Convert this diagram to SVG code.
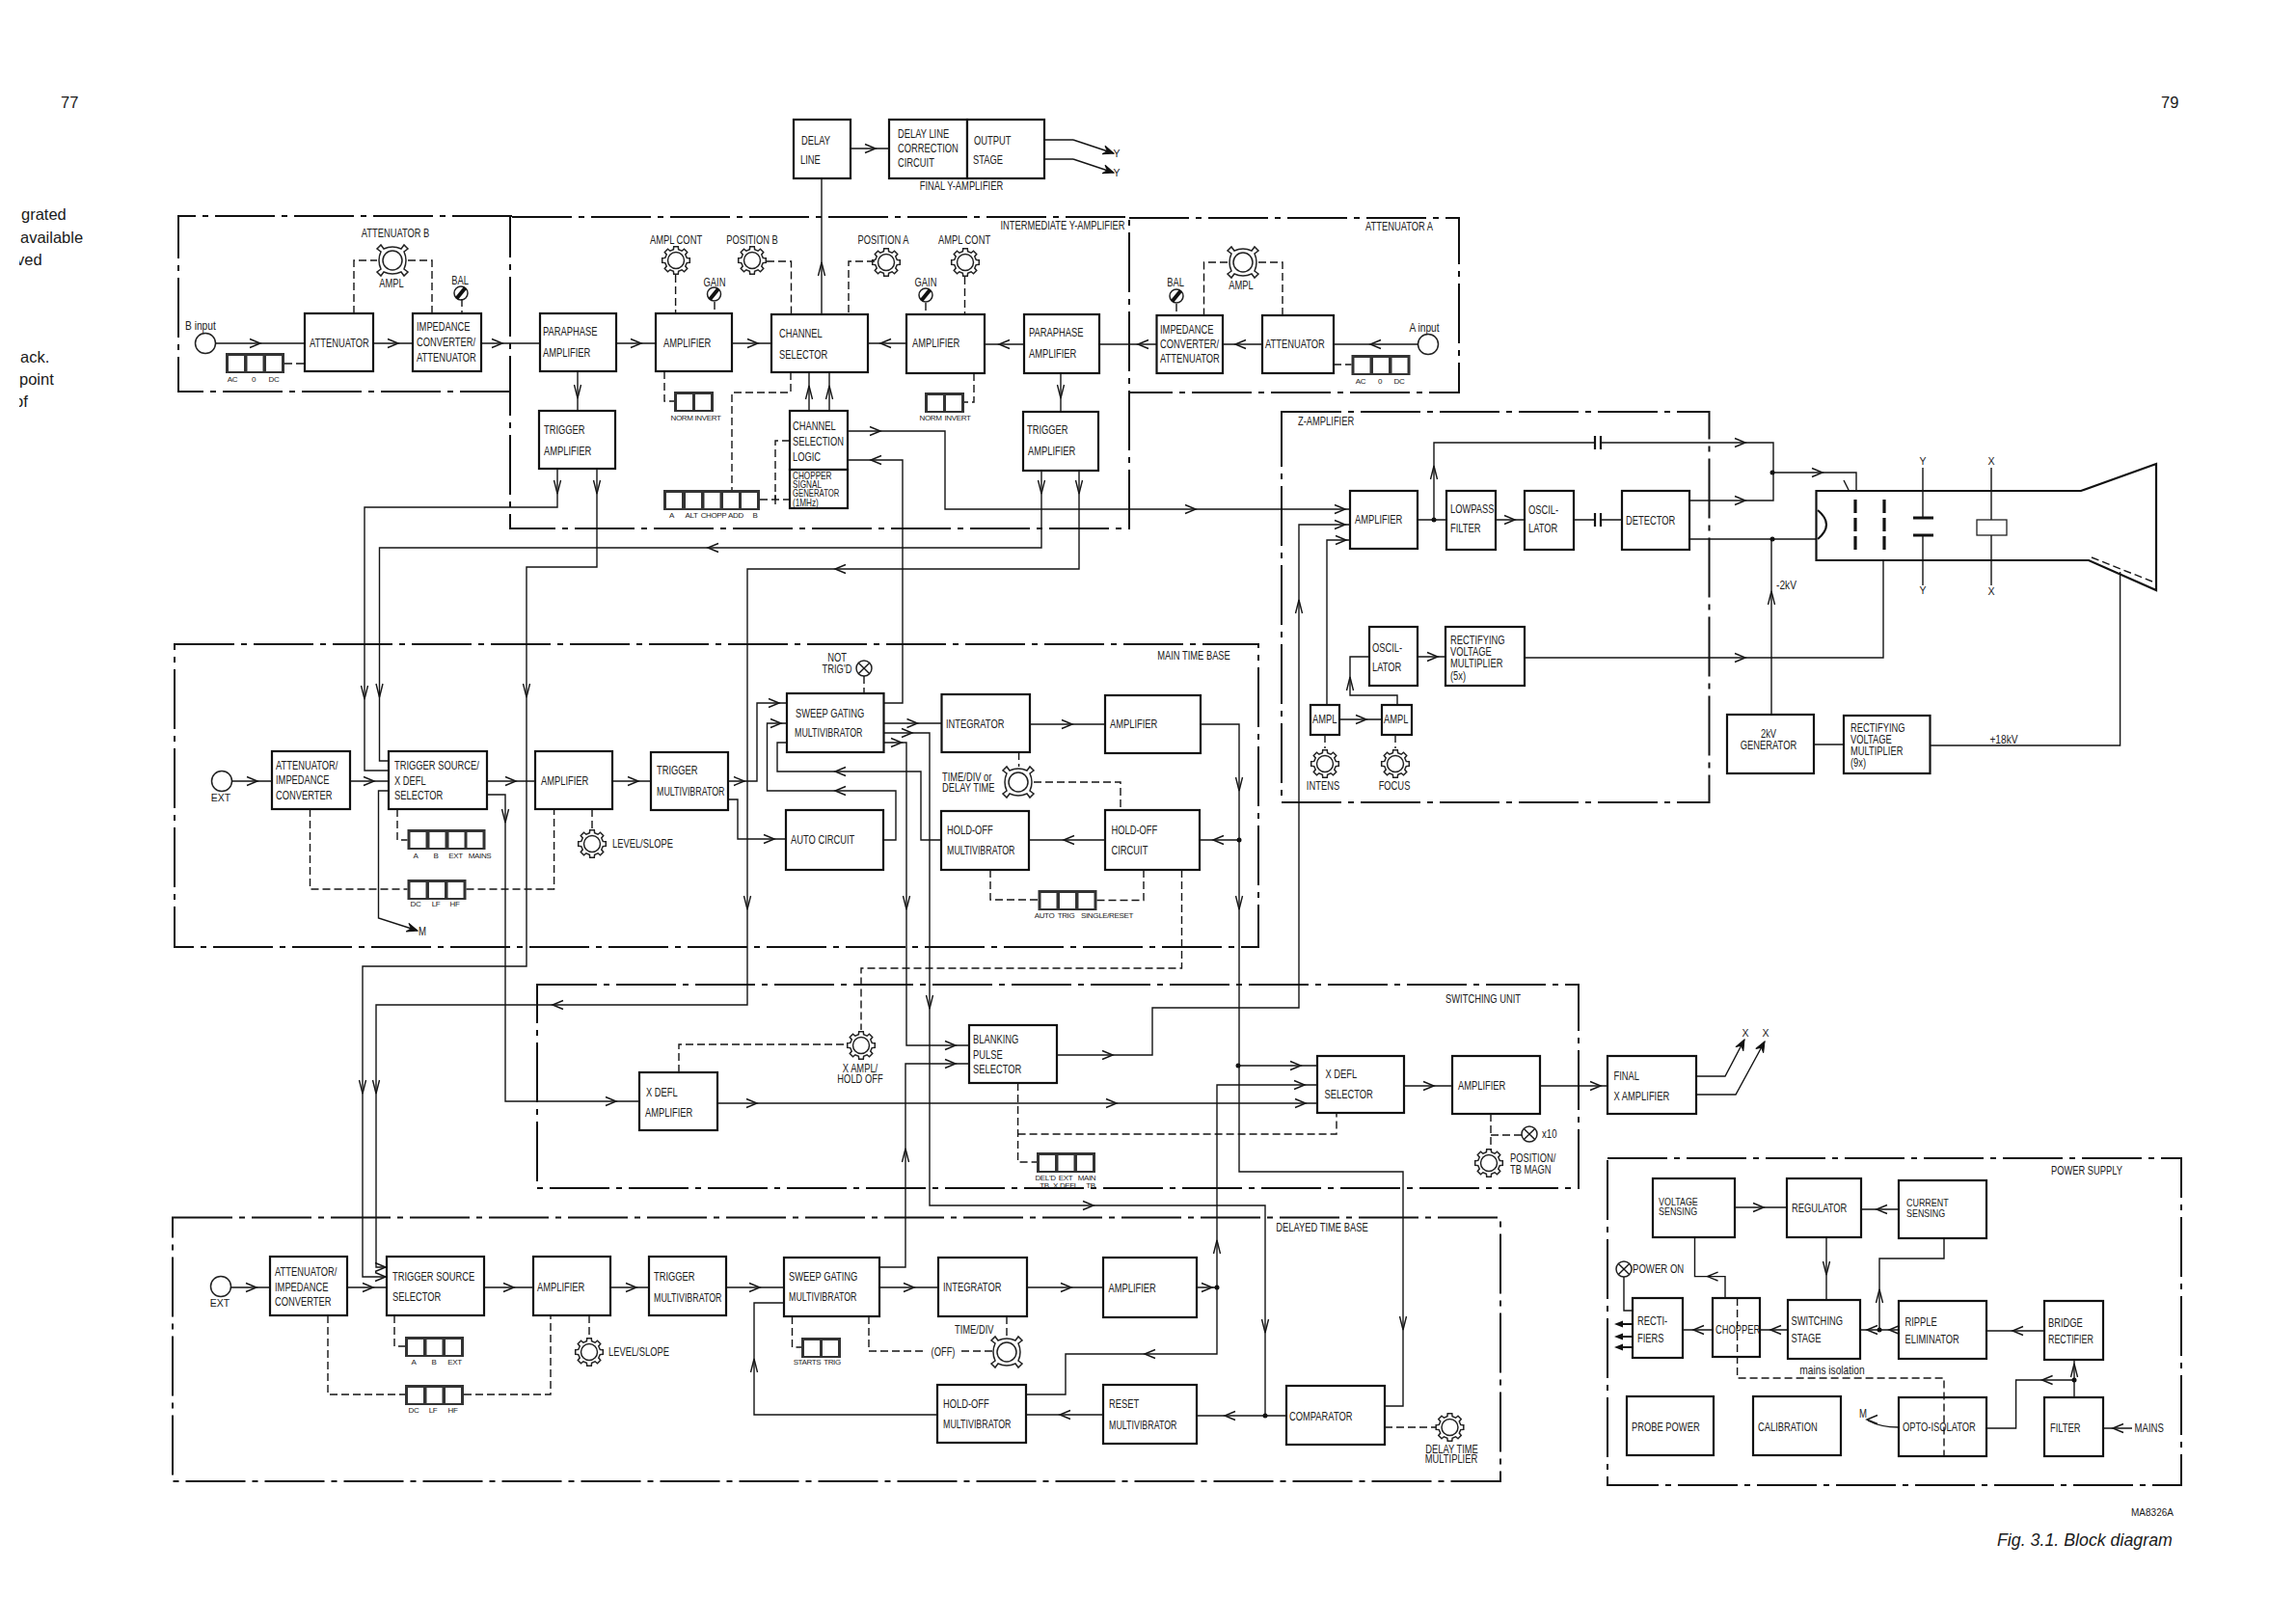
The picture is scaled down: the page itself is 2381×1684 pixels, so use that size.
<svg xmlns="http://www.w3.org/2000/svg" width="2381" height="1684" viewBox="0 0 2381 1684">
<style>
text{font-family:"Liberation Sans",Arial,sans-serif;font-size:12px;fill:#1a1a1a}
text.s{font-size:8px;letter-spacing:-.35px}
text.m{text-anchor:middle}
text.p{font-size:16.5px}
text.n{font-size:10.5px}
text.fig{font-size:17.8px;font-style:italic}
.b{fill:#fff;stroke:#111;stroke-width:2.2}
.c{fill:none;stroke:#151515;stroke-width:1.4}
.d{fill:none;stroke:#151515;stroke-width:1.4;stroke-dasharray:8 4}
.f{fill:none;stroke:#111;stroke-width:2;stroke-dasharray:62 7 6 7}
.k{fill:#fff;stroke:#222;stroke-width:1.5}
.t{fill:none;stroke:#111;stroke-width:2.2}
.e{fill:none;stroke:#111;stroke-width:3.2;stroke-dasharray:14 5}
.dot{fill:#111}
</style>
<defs>
<path id="ar" class="c" d="M-11,-4.5L0,0L-11,4.5"/>
<path id="al" class="c" d="M11,-4.5L0,0L11,4.5"/>
<path id="au" class="c" d="M-3.5,14L0,0L3.5,14"/>
<path id="ad" class="c" d="M-3.5,-14L0,0L3.5,-14"/>
<path id="fa" d="M0,0L9,-3.5L9,-1H19V1H9L9,3.5Z" fill="#111"/>
<marker id="me" viewBox="-12 -6 13 12" refX="0" refY="0" markerWidth="13" markerHeight="12" markerUnits="userSpaceOnUse" orient="auto"><path d="M-11,-4.5L0,0L-11,4.5L-7,0Z" fill="#111" stroke="#111"/></marker>
<g id="gear"><path class="k" d="M11.2,-2.6L14.3,-2.3L14.3,2.3L11.2,2.6L9.76,6.08L11.74,8.49L8.49,11.74L6.08,9.76L2.6,11.2L2.3,14.3L-2.3,14.3L-2.6,11.2L-6.08,9.76L-8.49,11.74L-11.74,8.49L-9.76,6.08L-11.2,2.6L-14.3,2.3L-14.3,-2.3L-11.2,-2.6L-9.76,-6.08L-11.74,-8.49L-8.49,-11.74L-6.08,-9.76L-2.6,-11.2L-2.3,-14.3L2.3,-14.3L2.6,-11.2L6.08,-9.76L8.49,-11.74L11.74,-8.49L9.76,-6.08Z"/><circle class="k" r="8.5"/></g>
<g id="lug"><path class="k" d="M-9,-12Q0,-16 9,-12L12,-16L16,-12L12,-9Q16,0 12,9L16,12L12,16L9,12Q0,16 -9,12L-12,16L-16,12L-12,9Q-16,0 -12,-9L-16,-12L-12,-16Z"/><circle class="k" r="10"/></g>
<g id="screw"><circle class="k" r="7"/><path d="M-4.5,5.5L4.5,-5.5" stroke="#111" stroke-width="4"/></g>
<g id="lamp"><circle class="k" r="8"/><path class="c" d="M-5.6,-5.6L5.6,5.6M-5.6,5.6L5.6,-5.6"/></g>
<g id="sw2"><rect width="41" height="21" fill="#333"/><rect x="3" y="3" width="16" height="16" fill="#fff"/><rect x="22" y="3" width="16" height="16" fill="#fff"/></g>
<g id="sw3"><rect width="61" height="21" fill="#333"/><rect x="3" y="3" width="16" height="16" fill="#fff"/><rect x="22.500" y="3" width="16" height="16" fill="#fff"/><rect x="42" y="3" width="16" height="16" fill="#fff"/></g>
<g id="sw4"><rect width="81" height="21" fill="#333"/><rect x="3" y="3" width="16" height="16" fill="#fff"/><rect x="23" y="3" width="16" height="16" fill="#fff"/><rect x="43" y="3" width="16" height="16" fill="#fff"/><rect x="62" y="3" width="16" height="16" fill="#fff"/></g>
<g id="sw5"><rect width="100" height="21" fill="#333"/><rect x="3" y="3" width="16" height="16" fill="#fff"/><rect x="23" y="3" width="16" height="16" fill="#fff"/><rect x="42.500" y="3" width="16" height="16" fill="#fff"/><rect x="62" y="3" width="16" height="16" fill="#fff"/><rect x="81" y="3" width="16" height="16" fill="#fff"/></g>
<clipPath id="margin"><rect x="20" y="200" width="120" height="240"/></clipPath>
</defs>
<rect width="2381" height="1684" fill="#fff"/>

<g id="page-text">
<text class="p" x="63" y="112">77</text>
<text class="p" x="2241" y="112">79</text>
<g clip-path="url(#margin)">
<text class="p" x="22" y="228">grated</text>
<text class="p" x="21" y="252">available</text>
<text class="p" x="17" y="275">ved</text>
<text class="p" x="21" y="376">ack.</text>
<text class="p" x="20" y="399">point</text>
<text class="p" x="15" y="422">of</text>
</g>
<text class="m" x="2232" y="1572" style="font-size:10px">MA8326A</text>
<text class="fig" x="2071" y="1603">Fig. 3.1. Block diagram</text>
</g>

<g id="frames">
<path class="f" d="M531,224H185V406H530"/>
<path class="f" d="M531,225H1171V548H529V225"/>
<path class="f" d="M1171,226H1513V407H1170"/>
<path class="f" d="M181,668H1305V982H181Z"/>
<path class="f" d="M557,1021H1637V1232H557Z"/>
<path class="f" d="M179,1262.500H1556V1536H179Z"/>
<path class="f" d="M1329,427H1772.500V832H1329Z"/>
<path class="f" d="M1667,1201H2262V1540H1667Z"/>
<text class="m" transform="translate(410 246) scale(.78 1)">ATTENUATOR  B</text>
<text class="m" transform="translate(1102 238) scale(.78 1)">INTERMEDIATE  Y-AMPLIFIER</text>
<text class="m" transform="translate(1451 239) scale(.78 1)">ATTENUATOR  A</text>
<text class="m" transform="translate(1238 684) scale(.78 1)">MAIN  TIME  BASE</text>
<text class="m" transform="translate(1538 1040) scale(.78 1)">SWITCHING  UNIT</text>
<text class="m" transform="translate(1371 1277) scale(.78 1)">DELAYED  TIME  BASE</text>
<text transform="translate(1346 441) scale(.78 1)">Z-AMPLIFIER</text>
<text class="m" transform="translate(2164 1218) scale(.78 1)">POWER  SUPPLY</text>
</g>

<g id="nodes">
<g id="delay-line"><rect class="b" x="823" y="124" width="59" height="61"/><text transform="translate(831 150) scale(.78 1)">DELAY</text><text transform="translate(830 170) scale(.78 1)">LINE</text></g>
<g id="delay-correction"><rect class="b" x="922" y="124" width="81" height="61"/><text transform="translate(931 143) scale(.78 1)">DELAY  LINE</text><text transform="translate(931 158) scale(.78 1)">CORRECTION</text><text transform="translate(931 173) scale(.78 1)">CIRCUIT</text></g>
<g id="output-stage"><rect class="b" x="1003" y="124" width="80" height="61"/><text transform="translate(1010 150) scale(.78 1)">OUTPUT</text><text transform="translate(1009 170) scale(.78 1)">STAGE</text></g>
<text class="m" transform="translate(997 197) scale(.78 1)">FINAL  Y-AMPLIFIER</text>

<g id="att-b"><rect class="b" x="316" y="325" width="71" height="60"/><text transform="translate(321 360) scale(.78 1)">ATTENUATOR</text></g>
<g id="imp-b"><rect class="b" x="428" y="325" width="71" height="60"/><text transform="translate(432 343) scale(.78 1)">IMPEDANCE</text><text transform="translate(432 359) scale(.78 1)">CONVERTER/</text><text transform="translate(432 375) scale(.78 1)">ATTENUATOR</text></g>
<g id="para-b"><rect class="b" x="560" y="325" width="79" height="60"/><text transform="translate(563 348) scale(.78 1)">PARAPHASE</text><text transform="translate(563 370) scale(.78 1)">AMPLIFIER</text></g>
<g id="amp-b"><rect class="b" x="680" y="325" width="79" height="60"/><text transform="translate(688 360) scale(.78 1)">AMPLIFIER</text></g>
<g id="channel-selector"><rect class="b" x="800" y="326" width="100" height="60"/><text transform="translate(808 350) scale(.78 1)">CHANNEL</text><text transform="translate(808 372) scale(.78 1)">SELECTOR</text></g>
<g id="amp-a"><rect class="b" x="940" y="326" width="81" height="61"/><text transform="translate(946 360) scale(.78 1)">AMPLIFIER</text></g>
<g id="para-a"><rect class="b" x="1062" y="326" width="78" height="61"/><text transform="translate(1067 349) scale(.78 1)">PARAPHASE</text><text transform="translate(1067 371) scale(.78 1)">AMPLIFIER</text></g>
<g id="imp-a"><rect class="b" x="1199.500" y="327" width="68.500" height="60"/><text transform="translate(1203 346) scale(.78 1)">IMPEDANCE</text><text transform="translate(1203 361) scale(.78 1)">CONVERTER/</text><text transform="translate(1203 376) scale(.78 1)">ATTENUATOR</text></g>
<g id="att-a"><rect class="b" x="1309" y="327" width="74" height="60"/><text transform="translate(1312 361) scale(.78 1)">ATTENUATOR</text></g>
<g id="trig-amp-b"><rect class="b" x="559" y="426" width="79" height="60"/><text transform="translate(564 450) scale(.78 1)">TRIGGER</text><text transform="translate(564 472) scale(.78 1)">AMPLIFIER</text></g>
<g id="trig-amp-a"><rect class="b" x="1061" y="427" width="78" height="61"/><text transform="translate(1065 450) scale(.78 1)">TRIGGER</text><text transform="translate(1066 472) scale(.78 1)">AMPLIFIER</text></g>
<g id="channel-logic"><rect class="b" x="819" y="426" width="60" height="61"/><text transform="translate(822 446) scale(.78 1)">CHANNEL</text><text transform="translate(822 462) scale(.78 1)">SELECTION</text><text transform="translate(822 478) scale(.78 1)">LOGIC</text></g>
<g id="chopper-gen"><rect class="b" x="819" y="487" width="60" height="40"/><text class="n" transform="translate(822 497) scale(.78 1)">CHOPPER</text><text class="n" transform="translate(822 506) scale(.78 1)">SIGNAL</text><text class="n" transform="translate(822 515) scale(.74 1)">GENERATOR</text><text class="n" transform="translate(822 525) scale(.78 1)">(1MHz)</text></g>

<g id="attenuator-b-controls"><use href="#lug" x="407" y="270"/><text class="m" transform="translate(406 298) scale(.78 1)">AMPL</text><use href="#screw" x="478" y="304"/><text class="m" transform="translate(477 295) scale(.78 1)">BAL</text><circle class="k" cx="213" cy="356" r="10.500"/><text transform="translate(192 342) scale(.85 1)">B input</text><use href="#sw3" x="234" y="366"/><text class="s m" x="241" y="396">AC</text><text class="s m" x="263" y="396">0</text><text class="s m" x="284" y="396">DC</text></g>
<g id="attenuator-a-controls"><use href="#lug" x="1289" y="272"/><text class="m" transform="translate(1287 300) scale(.78 1)">AMPL</text><use href="#screw" x="1220" y="307"/><text class="m" transform="translate(1219 297) scale(.78 1)">BAL</text><circle class="k" cx="1481" cy="357" r="10.500"/><text class="m" transform="translate(1477 344) scale(.85 1)">A input</text><use href="#sw3" x="1401.500" y="368"/><text class="s m" x="1411" y="398">AC</text><text class="s m" x="1431" y="398">0</text><text class="s m" x="1451" y="398">DC</text></g>
<g id="y-controls"><use href="#gear" x="701" y="270"/><text class="m" transform="translate(701 253) scale(.78 1)">AMPL  CONT</text><use href="#gear" x="780" y="270"/><text class="m" transform="translate(780 253) scale(.78 1)">POSITION  B</text><use href="#gear" x="919" y="272"/><text class="m" transform="translate(916 253) scale(.78 1)">POSITION  A</text><use href="#gear" x="1001" y="272"/><text class="m" transform="translate(1000 253) scale(.78 1)">AMPL  CONT</text><use href="#screw" x="740.500" y="305"/><text class="m" transform="translate(741 297) scale(.78 1)">GAIN</text><use href="#screw" x="960" y="306"/><text class="m" transform="translate(960 297) scale(.78 1)">GAIN</text><use href="#sw2" x="699" y="406"/><text class="s m" x="707" y="436">NORM</text><text class="s m" x="734" y="436">INVERT</text><use href="#sw2" x="959" y="407"/><text class="s m" x="965" y="436">NORM</text><text class="s m" x="993" y="436">INVERT</text><use href="#sw5" x="688" y="508"/><text class="s m" x="696.500" y="537">A</text><text class="s m" x="717" y="537">ALT</text><text class="s m" x="740" y="537">CHOPP</text><text class="s m" x="763" y="537">ADD</text><text class="s m" x="783" y="537">B</text></g>

<g id="ext-main"><circle class="k" cx="230" cy="810" r="10.500"/><text class="m n" x="229" y="831">EXT</text></g>
<g id="att-imp-main"><rect class="b" x="282" y="779" width="81" height="60"/><text transform="translate(286 798) scale(.78 1)">ATTENUATOR/</text><text transform="translate(286 813) scale(.78 1)">IMPEDANCE</text><text transform="translate(286 829) scale(.78 1)">CONVERTER</text></g>
<g id="trig-source-main"><rect class="b" x="403" y="779" width="102" height="60"/><text transform="translate(409 798) scale(.78 1)">TRIGGER  SOURCE/</text><text transform="translate(409 814) scale(.78 1)">X  DEFL</text><text transform="translate(409 829) scale(.78 1)">SELECTOR</text></g>
<g id="amp-main"><rect class="b" x="555" y="779" width="80" height="60"/><text transform="translate(561 814) scale(.78 1)">AMPLIFIER</text></g>
<g id="trig-multi-main"><rect class="b" x="675" y="780" width="80" height="60"/><text transform="translate(681 803) scale(.78 1)">TRIGGER</text><text transform="translate(681 825) scale(.74 1)">MULTIVIBRATOR</text></g>
<g id="sweep-main"><rect class="b" x="816" y="719" width="100.500" height="61"/><text transform="translate(825 744) scale(.78 1)">SWEEP  GATING</text><text transform="translate(824 764) scale(.74 1)">MULTIVIBRATOR</text></g>
<g id="auto-circuit"><rect class="b" x="815" y="840" width="101" height="62"/><text transform="translate(820 875) scale(.78 1)">AUTO  CIRCUIT</text></g>
<g id="integrator-main"><rect class="b" x="976.500" y="720" width="91.500" height="60"/><text transform="translate(981 755) scale(.78 1)">INTEGRATOR</text></g>
<g id="amp-main-2"><rect class="b" x="1146" y="721" width="99" height="60"/><text transform="translate(1151 755) scale(.78 1)">AMPLIFIER</text></g>
<g id="holdoff-multi-main"><rect class="b" x="976" y="841" width="91" height="61"/><text transform="translate(982 865) scale(.78 1)">HOLD-OFF</text><text transform="translate(982 886) scale(.74 1)">MULTIVIBRATOR</text></g>
<g id="holdoff-circuit"><rect class="b" x="1146" y="840" width="98" height="62"/><text transform="translate(1152.500 865) scale(.78 1)">HOLD-OFF</text><text transform="translate(1152.500 886) scale(.78 1)">CIRCUIT</text></g>
<g id="main-controls"><use href="#lamp" x="896" y="693"/><text class="m" transform="translate(868 686) scale(.78 1)">NOT</text><text class="m" transform="translate(868 698) scale(.78 1)">TRIG'D</text><use href="#lug" x="1056" y="811"/><text transform="translate(977 810) scale(.78 1)">TIME/DIV  or</text><text transform="translate(977 821) scale(.78 1)">DELAY  TIME</text><use href="#gear" x="614" y="875"/><text transform="translate(635 879) scale(.78 1)">LEVEL/SLOPE</text><use href="#sw4" x="422.500" y="860"/><text class="s m" x="431" y="890">A</text><text class="s m" x="452" y="890">B</text><text class="s m" x="472.500" y="890">EXT</text><text class="s m" x="497.500" y="890">MAINS</text><use href="#sw3" x="422.500" y="912"/><text class="s m" x="431" y="940">DC</text><text class="s m" x="452" y="940">LF</text><text class="s m" x="471.500" y="940">HF</text><use href="#sw3" x="1076.500" y="923"/><text class="s m" x="1083" y="952">AUTO</text><text class="s m" x="1105.500" y="952">TRIG</text><text class="s m" x="1148" y="952">SINGLE/RESET</text><text transform="translate(434 970) scale(.8 1)">M</text></g>

<g id="x-defl-amp"><rect class="b" x="663" y="1112" width="81" height="60"/><text transform="translate(670 1137) scale(.78 1)">X  DEFL</text><text transform="translate(669 1158) scale(.78 1)">AMPLIFIER</text></g>
<g id="blanking"><rect class="b" x="1005" y="1063" width="91" height="60"/><text transform="translate(1009 1082) scale(.78 1)">BLANKING</text><text transform="translate(1009 1098) scale(.78 1)">PULSE</text><text transform="translate(1009 1113) scale(.78 1)">SELECTOR</text></g>
<g id="x-defl-selector"><rect class="b" x="1366" y="1095" width="90" height="59"/><text transform="translate(1374.500 1118) scale(.78 1)">X  DEFL</text><text transform="translate(1373.500 1139) scale(.78 1)">SELECTOR</text></g>
<g id="amp-x"><rect class="b" x="1506" y="1095" width="91" height="60"/><text transform="translate(1512 1130) scale(.78 1)">AMPLIFIER</text></g>
<g id="final-x"><rect class="b" x="1667" y="1095" width="92" height="60"/><text transform="translate(1673.500 1120) scale(.78 1)">FINAL</text><text transform="translate(1673.500 1141) scale(.78 1)">X  AMPLIFIER</text></g>
<g id="switching-controls"><use href="#gear" x="893" y="1084"/><text class="m" transform="translate(892 1112) scale(.78 1)">X  AMPL/</text><text class="m" transform="translate(892 1123) scale(.78 1)">HOLD  OFF</text><use href="#sw3" x="1075" y="1195"/><text class="s m" x="1084" y="1224">DEL'D</text><text class="s m" x="1105" y="1224">EXT</text><text class="s m" x="1127" y="1224">MAIN</text><text class="s m" x="1083" y="1232">TB</text><text class="s m" x="1105" y="1232">X DEFL</text><text class="s m" x="1131" y="1232">TB</text><use href="#lamp" x="1586" y="1176"/><text transform="translate(1599 1180) scale(.8 1)">x10</text><use href="#gear" x="1544" y="1206"/><text transform="translate(1566 1205) scale(.78 1)">POSITION/</text><text transform="translate(1566 1217) scale(.78 1)">TB  MAGN</text></g>

<g id="ext-del"><circle class="k" cx="229" cy="1334" r="10.500"/><text class="m n" x="228" y="1355">EXT</text></g>
<g id="att-imp-del"><rect class="b" x="280" y="1303" width="80" height="61"/><text transform="translate(285 1323) scale(.78 1)">ATTENUATOR/</text><text transform="translate(285 1339) scale(.78 1)">IMPEDANCE</text><text transform="translate(285 1354) scale(.78 1)">CONVERTER</text></g>
<g id="trig-source-del"><rect class="b" x="401" y="1303" width="101" height="61"/><text transform="translate(407 1328) scale(.78 1)">TRIGGER  SOURCE</text><text transform="translate(407 1349) scale(.78 1)">SELECTOR</text></g>
<g id="amp-del"><rect class="b" x="553" y="1303" width="80" height="61"/><text transform="translate(557 1339) scale(.78 1)">AMPLIFIER</text></g>
<g id="trig-multi-del"><rect class="b" x="673" y="1303" width="80" height="61"/><text transform="translate(678 1328) scale(.78 1)">TRIGGER</text><text transform="translate(678 1350) scale(.74 1)">MULTIVIBRATOR</text></g>
<g id="sweep-del"><rect class="b" x="813" y="1304" width="99" height="61"/><text transform="translate(818 1328) scale(.78 1)">SWEEP  GATING</text><text transform="translate(818 1349) scale(.74 1)">MULTIVIBRATOR</text></g>
<g id="integrator-del"><rect class="b" x="973" y="1304" width="92" height="61"/><text transform="translate(978 1339) scale(.78 1)">INTEGRATOR</text></g>
<g id="amp-del-2"><rect class="b" x="1144" y="1304" width="97" height="62"/><text transform="translate(1149.500 1340) scale(.78 1)">AMPLIFIER</text></g>
<g id="holdoff-multi-del"><rect class="b" x="972" y="1436" width="92" height="60"/><text transform="translate(978 1460) scale(.78 1)">HOLD-OFF</text><text transform="translate(978 1481) scale(.74 1)">MULTIVIBRATOR</text></g>
<g id="reset-multi"><rect class="b" x="1144" y="1436" width="97" height="61"/><text transform="translate(1150 1460) scale(.78 1)">RESET</text><text transform="translate(1150 1482) scale(.74 1)">MULTIVIBRATOR</text></g>
<g id="comparator"><rect class="b" x="1334" y="1437" width="102" height="61"/><text transform="translate(1337 1473) scale(.78 1)">COMPARATOR</text></g>
<g id="delayed-controls"><use href="#gear" x="1503.500" y="1480"/><text class="m" transform="translate(1505.500 1506.500) scale(.78 1)">DELAY  TIME</text><text class="m" transform="translate(1505 1517) scale(.78 1)">MULTIPLIER</text><use href="#lug" x="1044" y="1402"/><text transform="translate(990 1382.500) scale(.78 1)">TIME/DIV</text><text class="m" transform="translate(978 1406) scale(.78 1)">(OFF)</text><use href="#sw2" x="831" y="1387"/><text class="s m" x="837" y="1415">STARTS</text><text class="s m" x="863" y="1415">TRIG</text><use href="#sw3" x="420" y="1386"/><text class="s m" x="429" y="1415">A</text><text class="s m" x="450" y="1415">B</text><text class="s m" x="471.500" y="1415">EXT</text><use href="#sw3" x="420" y="1436"/><text class="s m" x="429" y="1465">DC</text><text class="s m" x="449" y="1465">LF</text><text class="s m" x="469.500" y="1465">HF</text><use href="#gear" x="611" y="1402"/><text transform="translate(631 1406) scale(.78 1)">LEVEL/SLOPE</text></g>

<g id="amp-z"><rect class="b" x="1400" y="509" width="70" height="60"/><text transform="translate(1405 543) scale(.78 1)">AMPLIFIER</text></g>
<g id="lowpass"><rect class="b" x="1500" y="509" width="51" height="61"/><text transform="translate(1504 532) scale(.78 1)">LOWPASS</text><text transform="translate(1504 552) scale(.78 1)">FILTER</text></g>
<g id="osc-z1"><rect class="b" x="1581" y="509" width="51" height="61"/><text transform="translate(1585 533) scale(.78 1)">OSCIL-</text><text transform="translate(1585 552) scale(.78 1)">LATOR</text></g>
<g id="detector"><rect class="b" x="1682" y="509" width="70" height="61"/><text transform="translate(1686 544) scale(.78 1)">DETECTOR</text></g>
<g id="osc-z2"><rect class="b" x="1420" y="650" width="50" height="61"/><text transform="translate(1423 676) scale(.78 1)">OSCIL-</text><text transform="translate(1423 696) scale(.78 1)">LATOR</text></g>
<g id="rect-5x"><rect class="b" x="1499" y="650" width="82" height="61"/><text transform="translate(1504 668) scale(.78 1)">RECTIFYING</text><text transform="translate(1504 680) scale(.78 1)">VOLTAGE</text><text transform="translate(1504 692) scale(.78 1)">MULTIPLIER</text><text transform="translate(1504 705) scale(.78 1)">(5x)</text></g>
<g id="ampl-l"><rect class="b" x="1359" y="731" width="30" height="31"/><text transform="translate(1361 750) scale(.78 1)">AMPL</text></g>
<g id="ampl-r"><rect class="b" x="1433" y="731" width="31" height="31"/><text transform="translate(1435 750) scale(.78 1)">AMPL</text></g>
<g id="z-controls"><use href="#gear" x="1374" y="792"/><text class="m" transform="translate(1372 819) scale(.78 1)">INTENS</text><use href="#gear" x="1447" y="792"/><text class="m" transform="translate(1446 819) scale(.78 1)">FOCUS</text></g>
<g id="gen-2kv"><rect class="b" x="1791" y="741" width="90" height="61"/><text class="m" transform="translate(1834 765) scale(.78 1)">2kV</text><text class="m" transform="translate(1834 777) scale(.78 1)">GENERATOR</text></g>
<g id="rect-9x"><rect class="b" x="1912" y="742" width="89.500" height="60"/><text transform="translate(1919 759) scale(.78 1)">RECTIFYING</text><text transform="translate(1919 771) scale(.78 1)">VOLTAGE</text><text transform="translate(1919 783) scale(.78 1)">MULTIPLIER</text><text transform="translate(1919 795) scale(.78 1)">(9x)</text></g>

<g id="crt">
<path class="t" d="M1883.500,509H2158L2236,481V612L2166,581H1883.500Z"/>
<path class="t" d="M1885,529Q1903,544 1885,559"/>
<path class="e" d="M1924,518V572M1954,518V572"/>
<path class="t" style="stroke-width:3" d="M1984,537H2005M1984,555H2005"/>
<path class="c" d="M1994,485V537M1994,555V607M2065,485V539M2065,555V607"/>
<path class="d" d="M2169,578L2232,603"/>
<rect x="2050" y="539" width="31" height="16" fill="#fff" stroke="#222" stroke-width="1.300"/>
<path class="c" d="M1912,498L1917,508"/>
<text class="m n" x="1994" y="482">Y</text><text class="m n" x="1994" y="616">Y</text><text class="m n" x="2065" y="482">X</text><text class="m n" x="2065" y="617">X</text>
</g>

<g id="voltage-sensing"><rect class="b" x="1714" y="1222" width="85" height="61"/><text class="n" transform="translate(1720 1250) scale(.85 1)">VOLTAGE</text><text class="n" transform="translate(1720 1260) scale(.85 1)">SENSING</text></g>
<g id="regulator"><rect class="b" x="1853" y="1222" width="77" height="61"/><text transform="translate(1858 1257) scale(.78 1)">REGULATOR</text></g>
<g id="current-sensing"><rect class="b" x="1969" y="1224" width="91" height="60"/><text class="n" transform="translate(1977 1251) scale(.85 1)">CURRENT</text><text class="n" transform="translate(1977 1262) scale(.85 1)">SENSING</text></g>
<g id="rectifiers"><rect class="b" x="1693" y="1346" width="52" height="62"/><text transform="translate(1698 1374) scale(.78 1)">RECTI-</text><text transform="translate(1698 1392) scale(.78 1)">FIERS</text></g>
<g id="chopper"><rect class="b" x="1776" y="1346" width="49" height="61"/><text transform="translate(1779 1383) scale(.78 1)">CHOPPER</text></g>
<g id="switching-stage"><rect class="b" x="1854" y="1348" width="75" height="61"/><text transform="translate(1857.500 1374) scale(.78 1)">SWITCHING</text><text transform="translate(1857.500 1392) scale(.78 1)">STAGE</text></g>
<g id="ripple"><rect class="b" x="1969" y="1349" width="91" height="60"/><text transform="translate(1975.500 1375) scale(.78 1)">RIPPLE</text><text transform="translate(1975.500 1393) scale(.78 1)">ELIMINATOR</text></g>
<g id="bridge"><rect class="b" x="2120" y="1349" width="61" height="61"/><text transform="translate(2124 1376) scale(.78 1)">BRIDGE</text><text transform="translate(2124 1393) scale(.74 1)">RECTIFIER</text></g>
<g id="probe-power"><rect class="b" x="1687" y="1448" width="90" height="61"/><text transform="translate(1692 1484) scale(.78 1)">PROBE  POWER</text></g>
<g id="calibration"><rect class="b" x="1818" y="1448" width="91" height="61"/><text transform="translate(1823 1484) scale(.78 1)">CALIBRATION</text></g>
<g id="opto"><rect class="b" x="1969" y="1449" width="91" height="61"/><text transform="translate(1973 1484) scale(.78 1)">OPTO-ISOLATOR</text></g>
<g id="filter"><rect class="b" x="2120" y="1449" width="61" height="61"/><text transform="translate(2126 1485) scale(.78 1)">FILTER</text></g>
<g id="power-labels"><use href="#lamp" x="1684" y="1316"/><text transform="translate(1693 1320) scale(.8 1)">POWER  ON</text><text transform="translate(2213.500 1485) scale(.8 1)">MAINS</text><text class="m" transform="translate(1900 1425) scale(.85 1)">mains  isolation</text><text class="m" transform="translate(1932 1470) scale(.8 1)">M</text></g>
</g>

<g id="connectors">
<!-- upper section -->
<path class="c" d="M882,154H922M1083,145H1113M1083,165H1113M852,326V185"/>
<path class="c" d="M1113,145L1155,159" marker-end="url(#me)"/>
<path class="c" d="M1113,165L1155,179" marker-end="url(#me)"/>
<path class="c" d="M223,356H316M387,356H428M499,356H560M639,356H680M759,356H800M900,356H940M1021,357H1062M1140,357H1199M1268,357H1309M1383,357H1471"/>
<path class="c" d="M839,426V386M860,426V386M599,385V426M1100,387V427"/>
<path class="c" d="M578,486V526H378V799H403"/>
<path class="c" d="M619,486V588H546V1002H376V1324H400"/>
<path class="c" d="M1080,488V568H393.500V789H403"/>
<path class="c" d="M1119,488V590H775V1042H390V1314H400"/>
<path class="c" d="M879,447H980V528H1400"/>
<path class="c" d="M917,729H936V477H879"/>
<path class="c" d="M804,513V523"/>
<path class="d" d="M820,386V407H759V508M819,457H804V518M788,518H819M689,385V416H699M1010,387V417H1000M367,325V270H391M423,270H448V325M479,310V325M295,377H316M1330,327V272H1305M1273,272H1248.500V327M1220,315V327M1383,378H1401.500M700.600,285V325M795,271H820.500V326M907,271H880V326M1000.500,287V327M741,313V325M960,314V327"/>
<!-- main time base -->
<path class="c" d="M240,810H282M363,810H403M505,810H555M635,810H675M755,810H785V729H816M816,750H795.500V820H929V871H916M816,770H806V800H955V871H976M755,829H765V870H815M916,750H976M916,760H964V1250H1312V1468M916,770H940V1084H1005M1068,751H1146M1245,751H1285V1215H1455V1458H1436M1285,871H1244M1146,871H1067M1284,1105H1366M505,824H524V1142H663"/>
<path class="c" d="M403,820H392.500V952L433,965" marker-end="url(#me)"/>
<path class="d" d="M896,701V719M1056.600,780V795M1072,811H1162V840M1027,902V933H1076.500M1137.500,933.500H1186V902M1225.500,902V1004H893V1068M614,839V860M412,839V871H422.500M321.500,839V922H422.500M483.500,922H574.600V839"/>
<!-- switching unit -->
<path class="c" d="M744,1144H1366M1005,1103H939V1314H912M1096,1094H1195V1045H1347V544H1400M1366,1125H1262V1404H1105V1446H1064M1456,1126H1506M1597,1126H1667"/>
<path class="c" d="M1759,1116H1789L1809,1078" marker-end="url(#me)"/>
<path class="c" d="M1759,1135H1800L1830,1080" marker-end="url(#me)"/>
<path class="d" d="M704,1112V1083H877M1055.600,1123V1205H1075M1055.600,1176H1386V1154M1546,1155V1193M1546,1177H1578"/>
<!-- delayed time base -->
<path class="c" d="M239,1335H280M360,1335H401M502,1335H553M633,1335H673M753,1335H813M912,1335H973M1065,1335H1144M1241,1335H1262M1334,1468H1241M1144,1467H1064M972,1467H782V1351H813"/>
<path class="d" d="M901,1365V1401H960M997,1401H1030M1044,1365V1385M821.500,1365V1397H831M409,1364V1396H420M340,1364V1446H420M481,1446H571V1364M611,1364V1386M1436,1480H1489"/>
<!-- Z amplifier -->
<path class="c" d="M1470,539H1500M1487,539V459H1654M1660,459H1839V519H1752M1838,490H1925V510M1551,539H1581M1632,539H1654M1660,539H1682M1752,559H1883.500M1837,741V559M1470,681H1499M1581,682H1953V580M1389,746H1433M1376,731V560H1400M1449,731V721H1400V681H1420M1881,772H1912M2001.500,773H2198.600V593"/>
<path class="t" d="M1654,452V466M1660,452V466M1654,532V546M1660,532V546"/>
<path class="d" d="M1374,762V776M1447,762V776"/>
<!-- power supply -->
<path class="c" d="M1799,1252H1853M1969,1254H1930M1894,1283V1348M1757.500,1283V1323.600H1789V1346M2016,1284V1305H1949V1379M2060,1380H2120M1969,1379H1929M1854,1379H1825M1776,1379H1745M1684,1324V1359H1693M2151,1449V1410M2060,1481H2090.600V1431H2151M2211,1481H2181M1969,1480Q1950,1480 1937,1473"/>
<path class="d" d="M1801.600,1346V1429H2016V1509"/>
<!-- arrowheads -->
<g>
<use href="#ar" x="908" y="154"/><use href="#ar" x="270" y="356"/><use href="#ar" x="413" y="356"/><use href="#ar" x="521" y="356"/><use href="#ar" x="665" y="356"/><use href="#ar" x="786" y="356"/>
<use href="#al" x="913" y="356"/><use href="#al" x="1036" y="357"/><use href="#al" x="1180" y="357"/><use href="#al" x="1281" y="357"/><use href="#al" x="1421" y="357"/>
<use href="#au" x="852" y="272"/><use href="#au" x="839" y="400"/><use href="#au" x="860" y="400"/>
<use href="#ad" x="599" y="413"/><use href="#ad" x="1100" y="413"/><use href="#ad" x="578" y="512"/><use href="#ad" x="619" y="512"/><use href="#ad" x="1080" y="512"/><use href="#ad" x="1119" y="512"/>
<use href="#ad" x="378" y="725"/><use href="#ad" x="393.500" y="723"/><use href="#ad" x="546" y="723"/><use href="#al" x="734" y="568"/><use href="#al" x="866" y="590"/>
<use href="#ad" x="376" y="1134"/><use href="#ad" x="390" y="1134"/><use href="#ad" x="775" y="943"/><use href="#al" x="573" y="1042"/><use href="#ar" x="400" y="1324"/><use href="#ar" x="400" y="1314"/>
<use href="#ar" x="913" y="447"/><use href="#ar" x="1240" y="528"/><use href="#ar" x="1395" y="528"/><use href="#al" x="903" y="477"/>
<use href="#ar" x="267" y="810"/><use href="#ar" x="388" y="810"/><use href="#ar" x="535" y="810"/><use href="#ar" x="662" y="810"/><use href="#ar" x="772" y="810"/><use href="#ar" x="808" y="729"/><use href="#ar" x="810" y="750"/><use href="#al" x="866" y="820"/><use href="#al" x="866" y="800"/><use href="#ar" x="803" y="870"/>
<use href="#ar" x="951.500" y="750"/><use href="#ar" x="946" y="760"/><use href="#ar" x="935" y="770"/><use href="#ad" x="964" y="1046"/><use href="#ar" x="1134" y="1250"/><use href="#ad" x="1312" y="1382"/><use href="#ad" x="940" y="943"/><use href="#ar" x="991" y="1084"/>
<use href="#ar" x="1112" y="751"/><use href="#ad" x="1285" y="820"/><use href="#ad" x="1285" y="943"/><use href="#ad" x="1455" y="1379"/><use href="#al" x="1258" y="871"/><use href="#al" x="1103" y="871"/><use href="#ar" x="1349" y="1105"/>
<use href="#ad" x="524" y="853"/><use href="#ar" x="639" y="1142"/><use href="#ar" x="785" y="1144"/><use href="#ar" x="1158" y="1144"/><use href="#ar" x="1354" y="1144"/>
<use href="#ar" x="991" y="1103"/><use href="#au" x="939" y="1191"/><use href="#ar" x="1154" y="1094"/><use href="#au" x="1347" y="622"/><use href="#ar" x="1395" y="544"/><use href="#ar" x="1353" y="1125"/><use href="#au" x="1262" y="1286"/><use href="#al" x="1187" y="1404"/><use href="#ar" x="1257" y="1335"/>
<use href="#ar" x="1487" y="1126"/><use href="#ar" x="1660" y="1126"/>
<use href="#ar" x="266" y="1335"/><use href="#ar" x="387" y="1335"/><use href="#ar" x="533" y="1335"/><use href="#ar" x="660" y="1335"/><use href="#ar" x="788" y="1335"/><use href="#ar" x="948" y="1335"/><use href="#ar" x="1111" y="1335"/><use href="#al" x="1270" y="1468"/><use href="#al" x="1099" y="1467"/><use href="#au" x="782" y="1409"/>
<use href="#au" x="1487" y="483"/><use href="#ar" x="1810" y="459"/><use href="#ar" x="1810" y="519"/><use href="#ar" x="1890" y="490"/><use href="#ar" x="1571" y="539"/><use href="#au" x="1837" y="613"/><use href="#ar" x="1491" y="681"/><use href="#ar" x="1810" y="682"/><use href="#ar" x="1417" y="746"/><use href="#ar" x="1396" y="560"/><use href="#au" x="1400" y="702"/>
<use href="#ar" x="1829" y="1252"/><use href="#al" x="1946" y="1254"/><use href="#ad" x="1894" y="1322"/><use href="#al" x="1770.600" y="1323.600"/><use href="#au" x="1949" y="1337"/><use href="#al" x="1959" y="1379"/><use href="#al" x="1936" y="1379"/><use href="#al" x="1836" y="1379"/><use href="#al" x="1756" y="1379"/><use href="#al" x="2087" y="1380"/><use href="#au" x="2151" y="1414"/><use href="#al" x="2117.600" y="1431"/><use href="#al" x="2191" y="1481"/><use href="#al" x="1936" y="1472"/>
<use href="#fa" x="1674" y="1373"/><use href="#fa" x="1674" y="1386"/><use href="#fa" x="1674" y="1397"/>
</g>
<g>
<circle class="dot" cx="1285" cy="871" r="2.500"/><circle class="dot" cx="1284" cy="1105" r="2.500"/><circle class="dot" cx="1262" cy="1335" r="2.500"/><circle class="dot" cx="1312" cy="1468" r="2.500"/><circle class="dot" cx="1487" cy="539" r="2.500"/><circle class="dot" cx="1838" cy="490" r="2.500"/><circle class="dot" cx="1838" cy="559" r="2.500"/><circle class="dot" cx="1949" cy="1379" r="2.500"/><circle class="dot" cx="2151" cy="1431" r="2.500"/>
</g>
<text class="m n" x="1158" y="163">Y</text><text class="m n" x="1158" y="183">Y</text>
<text class="m n" x="1810" y="1075">X</text><text class="m n" x="1831" y="1075">X</text>
<text transform="translate(1842 611) scale(.85 1)">-2kV</text>
<text class="m" transform="translate(2078 771) scale(.85 1)">+18kV</text>
</g>
</svg>
